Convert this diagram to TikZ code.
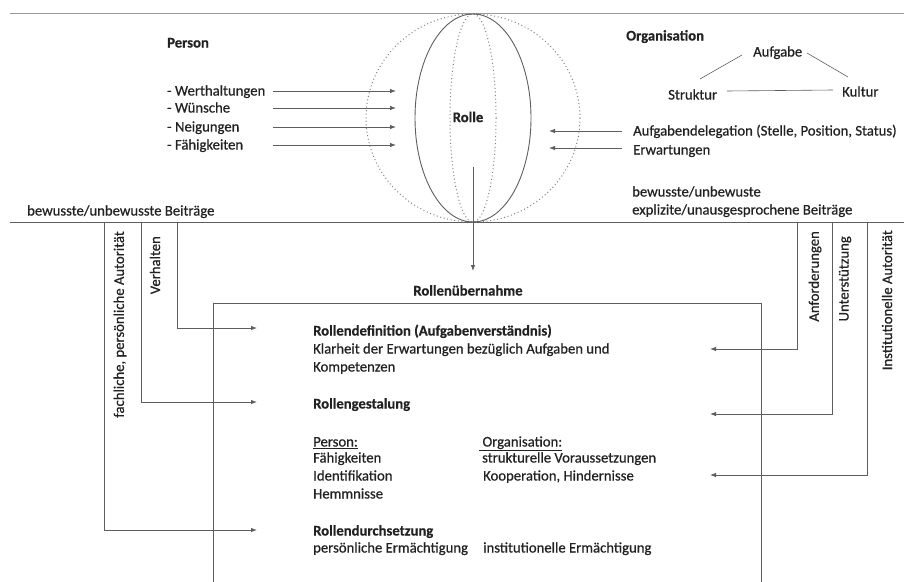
\documentclass[tikz,border=0pt]{standalone}
\usepackage{fontspec}
\setmainfont{Carlito}
\newfontfamily\regfont{Carlito}[FakeBold=0.7]
\newfontfamily\boldfont{Carlito Bold}[FakeBold=0.5]
\usetikzlibrary{arrows.meta}
\definecolor{txt}{HTML}{222222}
\definecolor{ln}{HTML}{5E5E5E}
\definecolor{lnlight}{HTML}{9A9A9A}
\definecolor{dots}{HTML}{808080}
\tikzset{
  lbl/.style={inner sep=0pt, anchor=base west, text=txt, font=\regfont\fontsize{14.7}{17}\selectfont},
  bold/.style={inner sep=0pt, anchor=base west, text=txt, font=\boldfont\fontsize{14.7}{17}\selectfont},
  vlbl/.style={inner sep=0pt, rotate=90, anchor=east, text=txt, font=\regfont\fontsize{14.7}{17}\selectfont},
  conn/.style={draw=ln, line width=0.8pt},
  arr/.style={conn, -{Latex[length=6pt,width=4.5pt]}},
  dotline/.style={draw=dots, line width=1pt, dash pattern=on 1pt off 2.6pt},
}
\begin{document}
\begin{tikzpicture}[x=1pt,y=-1pt]
\useasboundingbox (0,0) rectangle (904,581);
% frame lines
\coordinate (topL) at (10,13); \coordinate (topR) at (904,13);
\coordinate (midL) at (10,222); \coordinate (midR) at (904,222);
\draw[draw=lnlight, line width=1pt] (topL) -- (topR);
\draw[conn, line width=0.9pt] (midL) -- (midR);

% globe
\coordinate (globe) at (473,118);
\draw[dotline] (globe) ellipse [x radius=107, y radius=104];
\draw[dotline] (globe) ellipse [x radius=23, y radius=104];
\draw[draw=ln, line width=0.9pt] (globe) ellipse [x radius=58, y radius=104];
\node[bold, anchor=center] (rolle) at (468,117) {Rolle};

% Person side
\node[bold] (person) at (167,47.5) {Person};
\node[lbl] (w1) at (167,95.5) {- Werthaltungen};
\node[lbl] (w2) at (167,112.5) {- Wünsche};
\node[lbl] (w3) at (167,131.5) {- Neigungen};
\node[lbl] (w4) at (167,149.5) {- Fähigkeiten};
\foreach \i/\y in {1/91,2/108,3/127,4/145}{
  \coordinate (ps\i) at (273,\y); \coordinate (pe\i) at (396,\y);
  \draw[arr] (ps\i) -- (pe\i);
}

% Organisation side
\node[bold] (org) at (626,40.5) {Organisation};
\node[lbl] (aufg) at (753,56.5) {Aufgabe};
\node[lbl] (strk) at (668,99.5) {Struktur};
\node[lbl] (kult) at (842,96.5) {Kultur};
\coordinate (a1) at (742,55); \coordinate (a2) at (700,79);
\coordinate (b1) at (807,53); \coordinate (b2) at (848,77);
\coordinate (c1) at (727,91); \coordinate (c2) at (833,90);
\draw[conn, line width=0.6pt] (a1) -- (a2);
\draw[conn, line width=0.6pt] (b1) -- (b2);
\draw[conn, line width=0.6pt] (c1) -- (c2);
\node[lbl] (deleg) at (633,135.5) {Aufgabendelegation (Stelle, Position, Status)};
\node[lbl] (erw) at (633,154.5) {Erwartungen};
\coordinate (os1) at (622,131); \coordinate (oe1) at (549,131);
\coordinate (os2) at (622,148); \coordinate (oe2) at (549,148);
\draw[arr] (os1) -- (oe1);
\draw[arr] (os2) -- (oe2);
\node[lbl] (bew2a) at (632,196.5) {bewusste/unbewuste};
\node[lbl] (bew2b) at (632,214.5) {explizite/unausgesprochene Beiträge};
\node[lbl] (bew1) at (27,215.5) {bewusste/unbewusste Beiträge};

% Rolle -> Rollenuebernahme
\coordinate (rs) at (473,167); \coordinate (re) at (473,271);
\draw[arr] (rs) -- (re);
\node[bold, anchor=base] (uebern) at (468,295.5) {Rollenübernahme};

% box
\coordinate (boxBL) at (213,582); \coordinate (boxTL) at (213,303);
\coordinate (boxTR) at (761,303); \coordinate (boxBR) at (761,582);
\draw[conn] (boxBL) -- (boxTL) -- (boxTR) -- (boxBR);

% box text
\node[bold] (rdef) at (313,335.5) {Rollendefinition (Aufgabenverständnis)};
\node[lbl] (klar) at (313,353.5) {Klarheit der Erwartungen bezüglich Aufgaben und};
\node[lbl] (komp) at (313,371.5) {Kompetenzen};
\node[bold] (rgest) at (313,408.5) {Rollengestalung};
\node[lbl] (pers2) at (313,446.5) {\underline{Person:}};
\node[lbl] (f2) at (313,462.5) {Fähigkeiten};
\node[lbl] (ident) at (313,480.5) {Identifikation};
\node[lbl] (hemm) at (313,498.5) {Hemmnisse};
\node[lbl] (org2) at (479,446.5) {\underline{\ Organisation:}};
\node[lbl] (strv) at (482,462.5) {strukturelle Voraussetzungen};
\node[lbl] (koop) at (483,480.5) {Kooperation, Hindernisse};
\node[bold] (rdurch) at (313,535.5) {Rollendurchsetzung};
\node[lbl] (persE) at (313,552.5) {persönliche Ermächtigung};
\node[lbl] (instE) at (483,552.5) {institutionelle Ermächtigung};

% left vertical labels and connectors
\node[vlbl] (fach) at (120,231) {fachliche, persönliche Autorität};
\node[vlbl] (verh) at (155,236) {Verhalten};
\coordinate (l1t) at (104,222); \coordinate (l1e) at (257,530);
\coordinate (l2t) at (141,222); \coordinate (l2e) at (257,402);
\coordinate (l3t) at (177,222); \coordinate (l3e) at (257,328);
\draw[arr] (l1t) |- (l1e);
\draw[arr] (l2t) |- (l2e);
\draw[arr] (l3t) |- (l3e);

% right vertical labels and connectors
\node[vlbl] (anf) at (815,231) {Anforderungen};
\node[vlbl] (unt) at (845,236) {Unterstützung};
\node[vlbl] (inst) at (887,230) {Institutionelle Autorität};
\coordinate (r1t) at (797,222); \coordinate (r1e) at (710,349);
\coordinate (r2t) at (832,222); \coordinate (r2e) at (710,414);
\coordinate (r3t) at (867,222); \coordinate (r3e) at (710,475);
\draw[arr] (r1t) |- (r1e);
\draw[arr] (r2t) |- (r2e);
\draw[arr] (r3t) |- (r3e);
\end{tikzpicture}
\end{document}
